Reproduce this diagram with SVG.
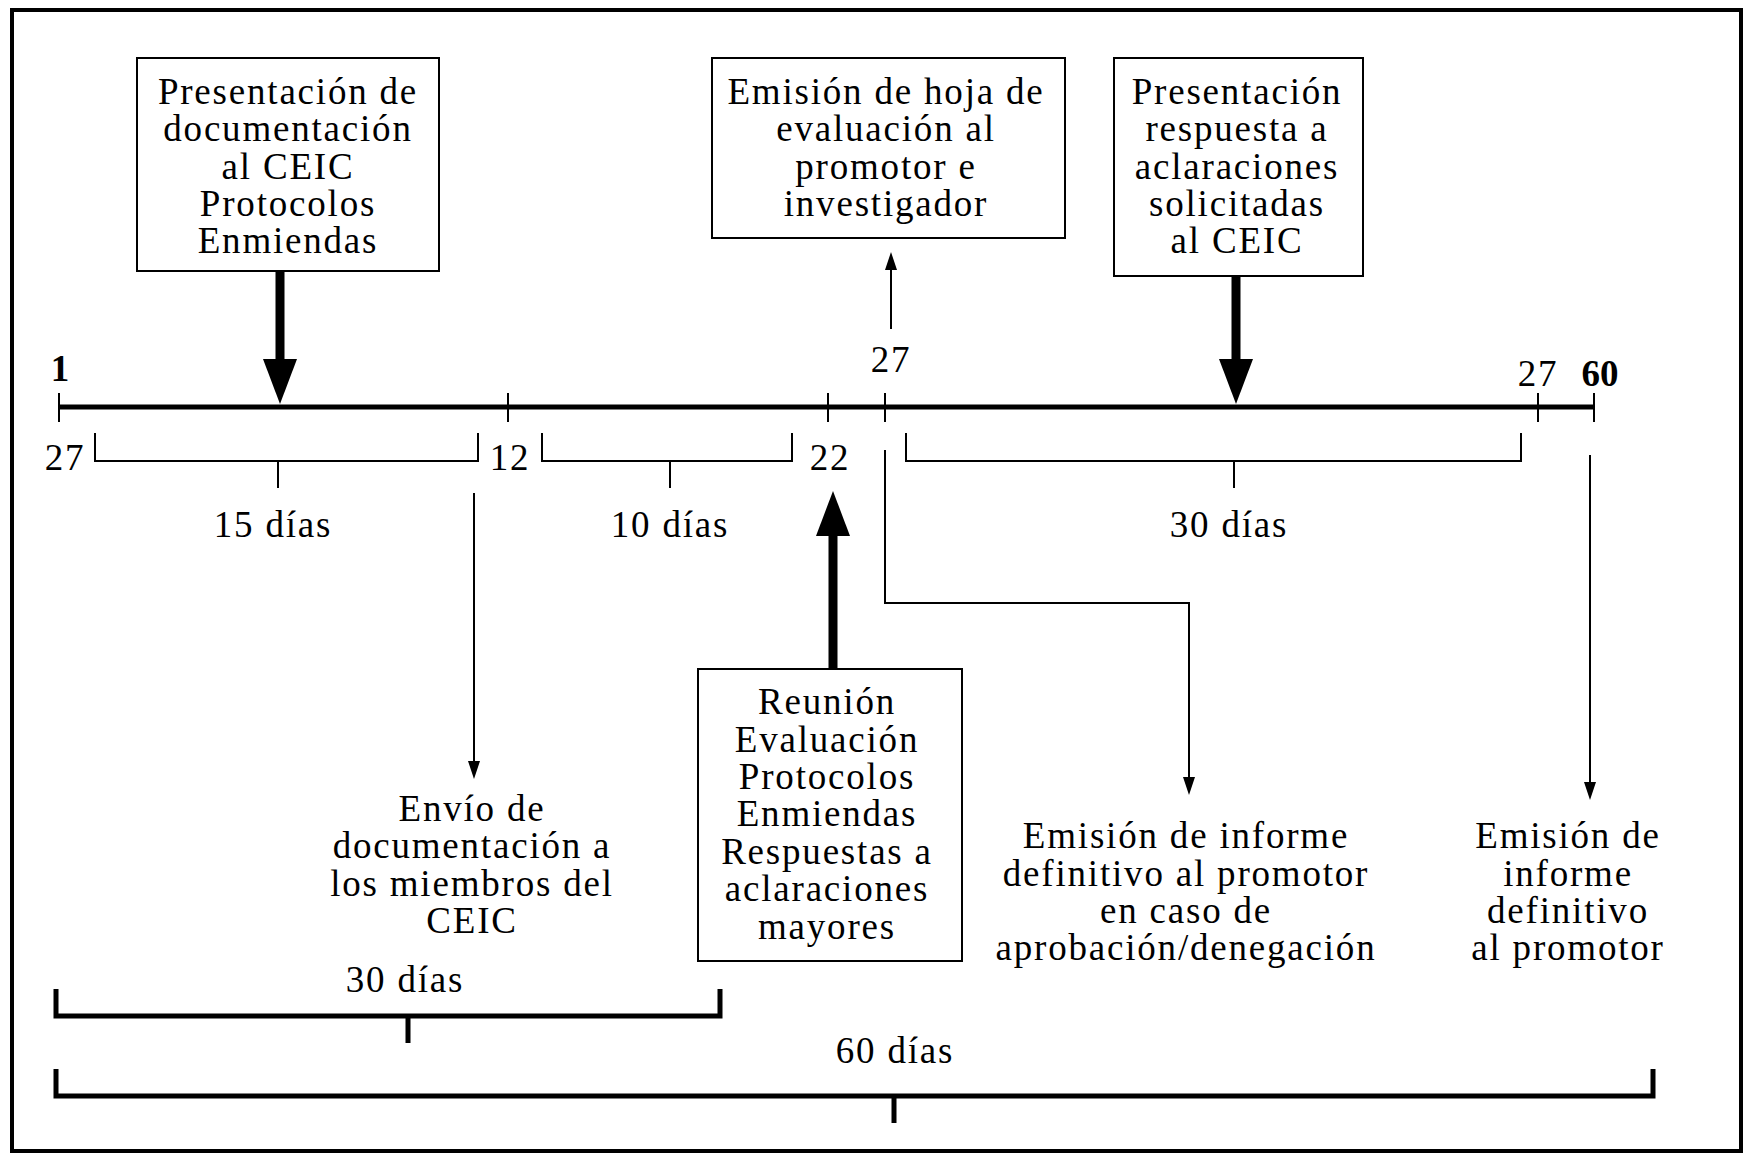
<svg xmlns="http://www.w3.org/2000/svg" width="1750" height="1160" viewBox="0 0 1750 1160">
<style>
.t{font-family:"Liberation Serif","Times New Roman",serif;font-size:37px;letter-spacing:1.8px;text-anchor:middle;fill:#000}
.b{font-weight:bold;letter-spacing:0}
.box{fill:#fff;stroke:#000;stroke-width:2}
.thin{fill:none;stroke:#000;stroke-width:2}
.thick{fill:none;stroke:#000;stroke-width:9}
.brk{fill:none;stroke:#000;stroke-width:5}
</style>
<defs>
<marker id="ah" viewBox="0 0 18 12" refX="1" refY="6" markerWidth="18" markerHeight="12" markerUnits="userSpaceOnUse" orient="auto">
<path d="M0,0 L18,6 L0,12 z" fill="#000"/>
</marker>
<marker id="ahb" viewBox="0 0 45 34" refX="1" refY="17" markerWidth="45" markerHeight="34" markerUnits="userSpaceOnUse" orient="auto">
<path d="M0,0 L45,17 L0,34 z" fill="#000"/>
</marker>
</defs>
<rect width="1750" height="1160" fill="#fff"/>
<rect x="12" y="10" width="1729" height="1141" fill="none" stroke="#000" stroke-width="4"/>

<g id="timeline">
<line x1="59" y1="407" x2="1594" y2="407" stroke="#000" stroke-width="5"/>
<path class="thin" d="M59,393V422 M508,393V422 M828,393V422 M885,393V422 M1538,393V422 M1594,393V422"/>
<text class="t b" x="60" y="381">1</text>
<text class="t" x="891" y="372">27</text>
<text class="t" x="1538" y="386">27</text>
<text class="t b" x="1600" y="386">60</text>
<text class="t" x="65" y="470">27</text>
<text class="t" x="510" y="470">12</text>
<text class="t" x="830" y="470">22</text>
</g>

<g id="brackets">
<path class="thin" d="M95,433V461H478V433 M278,461V488"/>
<path class="thin" d="M542,433V461H792V433 M670,461V488"/>
<path class="thin" d="M906,433V461H1521V433 M1234,461V488"/>
<text class="t" x="273" y="537">15 días</text>
<text class="t" x="670" y="537">10 días</text>
<text class="t" x="1229" y="537">30 días</text>
<path class="brk" d="M56,989V1016H720V989 M408,1016V1043"/>
<text class="t" x="405" y="992">30 días</text>
<path class="brk" d="M56,1069V1096H1653V1069 M894,1096V1123"/>
<text class="t" x="895" y="1063">60 días</text>
</g>

<g id="n1">
<rect class="box" x="137" y="58" width="302" height="213"/>
<text class="t" x="288" y="104">Presentación de</text>
<text class="t" x="288" y="141">documentación</text>
<text class="t" x="288" y="179">al CEIC</text>
<text class="t" x="288" y="216">Protocolos</text>
<text class="t" x="288" y="253">Enmiendas</text>
</g>

<g id="n2">
<rect class="box" x="712" y="58" width="353" height="180"/>
<text class="t" x="886" y="104">Emisión de hoja de</text>
<text class="t" x="886" y="141">evaluación al</text>
<text class="t" x="886" y="179">promotor e</text>
<text class="t" x="886" y="216">investigador</text>
</g>

<g id="n3">
<rect class="box" x="1114" y="58" width="249" height="218"/>
<text class="t" x="1237" y="104">Presentación</text>
<text class="t" x="1237" y="141">respuesta a</text>
<text class="t" x="1237" y="179">aclaraciones</text>
<text class="t" x="1237" y="216">solicitadas</text>
<text class="t" x="1237" y="253">al CEIC</text>
</g>

<g id="n4">
<rect class="box" x="698" y="669" width="264" height="292"/>
<text class="t" x="827" y="714">Reunión</text>
<text class="t" x="827" y="752">Evaluación</text>
<text class="t" x="827" y="789">Protocolos</text>
<text class="t" x="827" y="826">Enmiendas</text>
<text class="t" x="827" y="864">Respuestas a</text>
<text class="t" x="827" y="901">aclaraciones</text>
<text class="t" x="827" y="939">mayores</text>
</g>

<g id="n5">
<text class="t" x="472" y="821">Envío de</text>
<text class="t" x="472" y="858">documentación a</text>
<text class="t" x="472" y="896">los miembros del</text>
<text class="t" x="472" y="933">CEIC</text>
</g>

<g id="n6">
<text class="t" x="1186" y="848">Emisión de informe</text>
<text class="t" x="1186" y="886">definitivo al promotor</text>
<text class="t" x="1186" y="923">en caso de</text>
<text class="t" x="1186" y="960">aprobación/denegación</text>
</g>

<g id="n7">
<text class="t" x="1568" y="848">Emisión de</text>
<text class="t" x="1568" y="886">informe</text>
<text class="t" x="1568" y="923">definitivo</text>
<text class="t" x="1568" y="960">al promotor</text>
</g>

<g id="connectors">
<line class="thick" x1="280" y1="271" x2="280" y2="360" marker-end="url(#ahb)"/>
<line class="thick" x1="1236" y1="276" x2="1236" y2="360" marker-end="url(#ahb)"/>
<line class="thick" x1="833" y1="669" x2="833" y2="535" marker-end="url(#ahb)"/>
<line class="thin" x1="891" y1="329" x2="891" y2="269" marker-end="url(#ah)"/>
<line class="thin" x1="474" y1="493" x2="474" y2="762" marker-end="url(#ah)"/>
<path class="thin" d="M885,450V603H1189V778" marker-end="url(#ah)"/>
<line class="thin" x1="1590" y1="455" x2="1590" y2="783" marker-end="url(#ah)"/>
</g>
</svg>
